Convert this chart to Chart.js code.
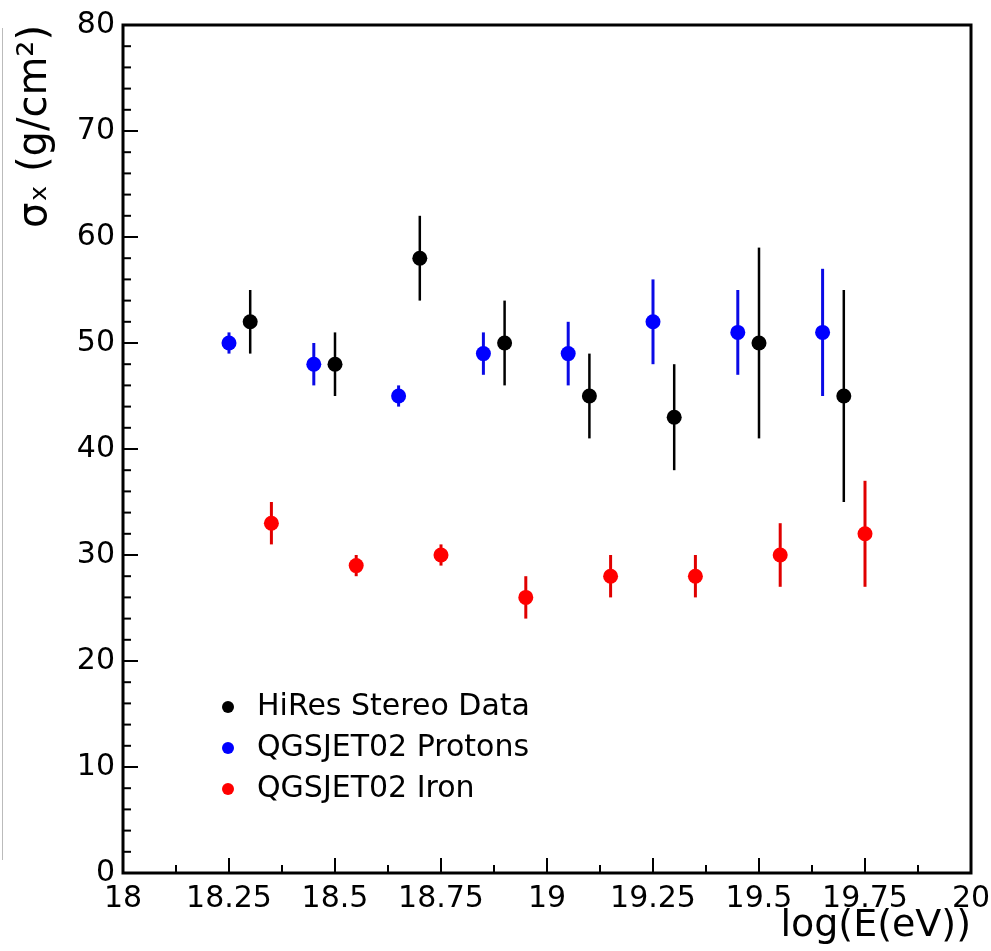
<!DOCTYPE html>
<html>
<head>
<title>sigma_x vs log E</title>
<script src="https://cdn.jsdelivr.net/npm/chart.js"></script>
<style>
  html, body { margin: 0; padding: 0; background: #fff; }
  #wrap { width: 991px; height: 951px; position: relative; }
</style>
</head>
<body>
<div id="wrap"><canvas id="sigmaChart"></canvas></div>
<script>
// HiRes stereo data
var hiresE   = [18.3, 18.5, 18.7, 18.9, 19.1, 19.3, 19.5, 19.7];
var hiresSig = [52, 48, 58, 50, 45, 43, 50, 45];
var hiresErr = [3, 3, 4, 4, 4, 5, 9, 10];

// QGSJET02 protons
var protonE   = [18.25, 18.45, 18.65, 18.85, 19.05, 19.25, 19.45, 19.65];
var protonSig = [50, 48, 45, 49, 49, 52, 51, 51];
var protonErr = [1, 2, 1, 2, 3, 4, 4, 6];

// QGSJET02 iron
var ironE   = [18.35, 18.55, 18.75, 18.95, 19.15, 19.35, 19.55, 19.75];
var ironSig = [33, 29, 30, 26, 28, 28, 30, 32];
var ironErr = [2, 1, 1, 2, 2, 2, 3, 5];

var xTicks = [18, 18.25, 18.5, 18.75, 19, 19.25, 19.5, 19.75, 20];
var yTicks = [0, 10, 20, 30, 40, 50, 60, 70, 80];
var xMinorStep = 0.125;
var yMinorStep = 2;

function toPoints(xs, ys, errs) {
    return xs.map(function (x, i) { return { x: x, y: ys[i], err: errs[i] }; });
}

// vertical error bars, drawn under the markers
var errorBars = {
    id: 'errorBars',
    beforeDatasetsDraw: function (chart) {
        var ctx = chart.ctx, xs = chart.scales.x, ys = chart.scales.y;
        ctx.save();
        chart.data.datasets.forEach(function (ds) {
            ctx.strokeStyle = ds.barColor;
            ctx.lineWidth = ds.barWidth;
            ds.data.forEach(function (p) {
                var px = xs.getPixelForValue(p.x);
                ctx.beginPath();
                ctx.moveTo(px, ys.getPixelForValue(p.y - p.err));
                ctx.lineTo(px, ys.getPixelForValue(p.y + p.err));
                ctx.stroke();
            });
        });
        ctx.restore();
    }
};

// ROOT style frame with ticks on the inside
var frame = {
    id: 'frame',
    afterDraw: function (chart) {
        var ctx = chart.ctx, a = chart.chartArea, xs = chart.scales.x, ys = chart.scales.y;
        ctx.save();
        ctx.strokeStyle = '#000';
        ctx.lineWidth = 2;
        var v, p, len;
        for (v = ys.min; v <= ys.max + 1e-9; v += yMinorStep) {
            p = ys.getPixelForValue(v);
            len = yTicks.indexOf(v) >= 0 ? 15 : 8;
            ctx.beginPath(); ctx.moveTo(a.left, p); ctx.lineTo(a.left + len, p); ctx.stroke();
        }
        for (v = xs.min; v <= xs.max + 1e-9; v += xMinorStep) {
            p = xs.getPixelForValue(v);
            len = xTicks.indexOf(v) >= 0 ? 15 : 8;
            ctx.beginPath(); ctx.moveTo(p, a.bottom); ctx.lineTo(p, a.bottom - len); ctx.stroke();
        }
        ctx.lineWidth = 3;
        ctx.strokeRect(a.left, a.top, a.right - a.left, a.bottom - a.top);
        // faint edge line left over from the original page
        ctx.strokeStyle = '#bbb';
        ctx.lineWidth = 1;
        ctx.beginPath(); ctx.moveTo(2.5, 28); ctx.lineTo(2.5, 860); ctx.stroke();
        ctx.restore();
    }
};

// legend box inside the plot, bottom left
var innerLegend = {
    id: 'innerLegend',
    afterDraw: function (chart) {
        var ctx = chart.ctx, a = chart.chartArea;
        ctx.save();
        ctx.font = '30px "DejaVu Sans"';
        ctx.textBaseline = 'middle';
        chart.data.datasets.forEach(function (ds, i) {
            var y = a.top + 682 + i * 41;
            ctx.fillStyle = ds.backgroundColor;
            ctx.beginPath(); ctx.arc(a.left + 105, y, 6, 0, Math.PI * 2); ctx.fill();
            ctx.fillStyle = '#000';
            ctx.fillText(ds.label, a.left + 134, y);
        });
        ctx.restore();
    }
};

var ctx = document.getElementById('sigmaChart').getContext('2d');
var sigmaChart = new Chart(ctx, {
    type: 'scatter',
    data: {
        datasets: [{
            label: 'HiRes Stereo Data',
            data: toPoints(hiresE, hiresSig, hiresErr),
            backgroundColor: '#000000',
            borderColor: '#000000',
            barColor: '#000000',
            barWidth: 2.5,
            pointRadius: 7.5,
            pointBorderWidth: 0
        }, {
            label: 'QGSJET02 Protons',
            data: toPoints(protonE, protonSig, protonErr),
            backgroundColor: '#0000ff',
            borderColor: '#0000ff',
            barColor: '#0a0ae6',
            barWidth: 3,
            pointRadius: 7.5,
            pointBorderWidth: 0
        }, {
            label: 'QGSJET02 Iron',
            data: toPoints(ironE, ironSig, ironErr),
            backgroundColor: '#ff0000',
            borderColor: '#ff0000',
            barColor: '#e00000',
            barWidth: 3,
            pointRadius: 7.5,
            pointBorderWidth: 0
        }]
    },
    options: {
        responsive: true,
        maintainAspectRatio: false,
        animation: false,
        layout: { padding: { top: 25, right: 20, left: 0, bottom: 0 } },
        plugins: {
            legend: { display: false },
            tooltip: { enabled: false }
        },
        scales: {
            x: {
                type: 'linear',
                min: 18,
                max: 20,
                afterBuildTicks: function (s) { s.ticks = xTicks.map(function (v) { return { value: v }; }); },
                afterFit: function (s) { s.height = 78; s.paddingLeft = 0; s.paddingRight = 0; },
                grid: { display: false, drawTicks: false },
                border: { display: false },
                ticks: {
                    color: '#000',
                    padding: 8,
                    maxRotation: 0,
                    autoSkip: false,
                    font: { family: 'DejaVu Sans', size: 30 },
                    callback: function (v) { return String(Number(v.toFixed(2))); }
                },
                title: {
                    display: true,
                    text: 'log(E(eV))',
                    align: 'end',
                    color: '#000',
                    padding: { top: 0, bottom: 2 },
                    font: { family: 'DejaVu Sans', size: 38 }
                }
            },
            y: {
                type: 'linear',
                min: 0,
                max: 80,
                afterBuildTicks: function (s) { s.ticks = yTicks.map(function (v) { return { value: v }; }); },
                afterFit: function (s) { s.width = 123; s.paddingTop = 0; s.paddingBottom = 0; },
                grid: { display: false, drawTicks: false },
                border: { display: false },
                ticks: {
                    color: '#000',
                    padding: 8,
                    font: { family: 'DejaVu Sans', size: 30 }
                },
                title: {
                    display: true,
                    text: 'σₓ (g/cm²)',
                    align: 'end',
                    color: '#000',
                    padding: { top: 12, bottom: 0 },
                    font: { family: 'DejaVu Sans', size: 40 }
                }
            }
        }
    },
    plugins: [errorBars, frame, innerLegend]
});
</script>
</body>
</html>
